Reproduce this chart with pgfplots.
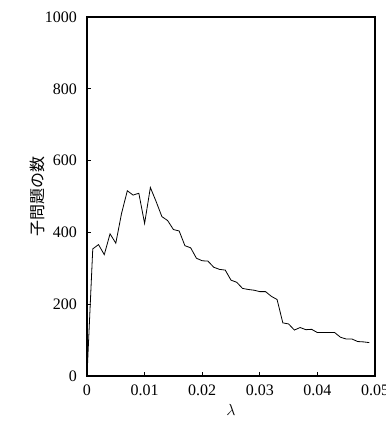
\documentclass[border=0pt]{standalone}
\usepackage{pgfplots}
\pgfplotsset{compat=1.18}
\usepackage{fontspec}
\setmainfont{Liberation Serif}
\newfontfamily\cjk{Noto Sans CJK JP}
\begin{document}
\begin{tikzpicture}[x=0.75pt,y=0.75pt]
\begin{axis}[
  name=ax,
  scale only axis,
  width=216pt, height=269.25pt,
  xmin=0, xmax=0.05, ymin=0, ymax=1000,
  xtick={0,0.01,0.02,0.03,0.04,0.05},
  xticklabels={0,0.01,0.02,0.03,0.04,0.05},
  ytick={0,200,400,600,800,1000},
  yticklabels={0,200,400,600,800,1000},
  scaled x ticks=false,
  tick align=inside,
  xtick pos=left, ytick pos=left,
  major tick length=3pt,
  tick style={black, line width=0.6pt},
  axis line style={line width=0.9pt},
  /pgf/number format/assume math mode=true,
  /pgf/number format/1000 sep={},
  ticklabel style={font=\fontsize{12}{14}\selectfont},
  xticklabel style={yshift=-3pt},
  yticklabel style={xshift=-4pt},
  ylabel={\fontsize{12}{14}\selectfont\cjk 子問題の数},
  ylabel style={at={(axis description cs:-0.172,0.5)}, anchor=center},
  xlabel={$\lambda$},
  xlabel style={font=\fontsize{12}{14}\selectfont, at={(axis description cs:0.5,0)}, anchor=center, yshift=-25.5pt},
]
\addplot[black, line width=0.6pt] coordinates {
(0,0) (0.001,354) (0.002,366) (0.003,338) (0.004,396) (0.005,370)
(0.006,453) (0.007,516) (0.008,504) (0.009,509) (0.010,425)
(0.011,525) (0.012,486) (0.013,444) (0.014,433) (0.015,408)
(0.016,404) (0.017,363) (0.018,357) (0.019,328) (0.020,321)
(0.021,320) (0.022,303) (0.023,297) (0.024,295) (0.025,267)
(0.026,261) (0.027,244) (0.028,241) (0.029,239) (0.030,235)
(0.031,235) (0.032,222) (0.033,213) (0.034,148) (0.035,145)
(0.036,128) (0.037,135) (0.038,129) (0.039,130) (0.040,121)
(0.041,121) (0.042,121) (0.043,121) (0.044,108) (0.045,103)
(0.046,103) (0.047,96) (0.048,95) (0.049,93)
};
\end{axis}
\pgfresetboundingbox
\path ([shift={(-65.25pt,-36pt)}]ax.south west) rectangle ([shift={(7.5pt,12.75pt)}]ax.north east);
\end{tikzpicture}
\end{document}
